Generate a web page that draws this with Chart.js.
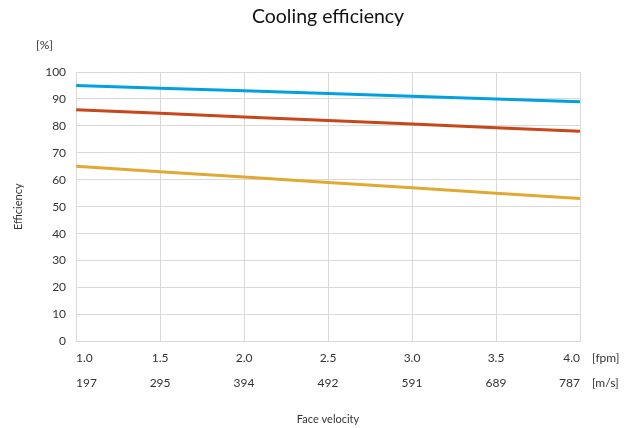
<!DOCTYPE html>
<html>
<head>
<meta charset="utf-8">
<script src="https://cdn.jsdelivr.net/npm/chart.js@4"></script>
<style>
  html, body { margin: 0; padding: 0; background: #fff; }
  #wrap { width: 643px; height: 428px; }
</style>
</head>
<body>
<div id="wrap"><canvas id="chart"></canvas></div>
<script>
// face velocity ticks (top row) and the matching second row labels
const velocity = [1.0, 1.5, 2.0, 2.5, 3.0, 3.5, 4.0];
const velocityAlt = ['197', '295', '394', '492', '591', '689', '787'];

// efficiency series (%)
const seriesBlue = [95, 94, 93, 92, 91, 90, 89];
const seriesRed = [86, 84.7, 83.3, 82, 80.7, 79.3, 78];
const seriesGold = [65, 63, 61, 59, 57, 55, 53];

const FONT = 'Lato, "Open Sans", sans-serif';

const toPoints = (ys) => velocity.map((x, i) => ({ x: x, y: ys[i] }));

// title centred over the plot, plus the unit labels beside the axes
const extraLabels = {
  id: 'extraLabels',
  afterDraw(chart) {
    const { ctx, chartArea, scales } = chart;
    ctx.save();
    ctx.textBaseline = 'middle';
    ctx.textAlign = 'center';
    ctx.fillStyle = '#111';
    ctx.font = '19.5px ' + FONT;
    ctx.fillText('Cooling efficiency', (chartArea.left + chartArea.right) / 2, 17);

    ctx.fillStyle = '#333';
    ctx.font = '12px ' + FONT;
    ctx.textAlign = 'left';
    ctx.fillText('[%]', chartArea.left - 40, chartArea.top - 27);
    const row1 = scales.x.top + 17;
    ctx.fillText('[fpm]', chartArea.right + 12, row1);
    ctx.fillText('[m/s]', chartArea.right + 12, row1 + 25);
    ctx.restore();
  }
};

new Chart(document.getElementById('chart'), {
  type: 'line',
  data: {
    datasets: [
      { data: toPoints(seriesBlue), borderColor: '#00a0e2' },
      { data: toPoints(seriesRed), borderColor: '#c9461b' },
      { data: toPoints(seriesGold), borderColor: '#e2a932' }
    ]
  },
  options: {
    responsive: true,
    maintainAspectRatio: false,
    animation: false,
    layout: { padding: { left: 12, right: 63, top: 72, bottom: 2 } },
    elements: {
      point: { radius: 0 },
      line: { borderWidth: 3, tension: 0 }
    },
    plugins: {
      legend: { display: false },
      tooltip: { enabled: false },
      title: { display: false }
    },
    scales: {
      x: {
        type: 'linear',
        min: 1,
        max: 4,
        grid: { color: '#d9d9d9', lineWidth: 1, drawTicks: false },
        border: { color: '#d9d9d9' },
        ticks: {
          stepSize: 0.5,
          align: 'inner',
          padding: 4,
          color: '#333',
          font: { family: FONT, size: 12, lineHeight: 2.1 },
          callback: (v) => {
            const i = velocity.indexOf(v);
            return [v.toFixed(1), i >= 0 ? velocityAlt[i] : ''];
          }
        },
        title: {
          display: true,
          text: 'Face velocity',
          color: '#333',
          font: { family: FONT, size: 11 },
          padding: { top: 13, bottom: 0 }
        }
      },
      y: {
        min: 0,
        max: 100,
        grid: { color: '#d9d9d9', lineWidth: 1, drawTicks: false },
        border: { color: '#d9d9d9' },
        ticks: {
          stepSize: 10,
          padding: 10,
          color: '#333',
          font: { family: FONT, size: 12 }
        },
        title: {
          display: true,
          text: 'Efficiency',
          color: '#333',
          font: { family: FONT, size: 11 },
          padding: { top: 0, bottom: 10 }
        }
      }
    }
  },
  plugins: [extraLabels]
});
</script>
</body>
</html>
